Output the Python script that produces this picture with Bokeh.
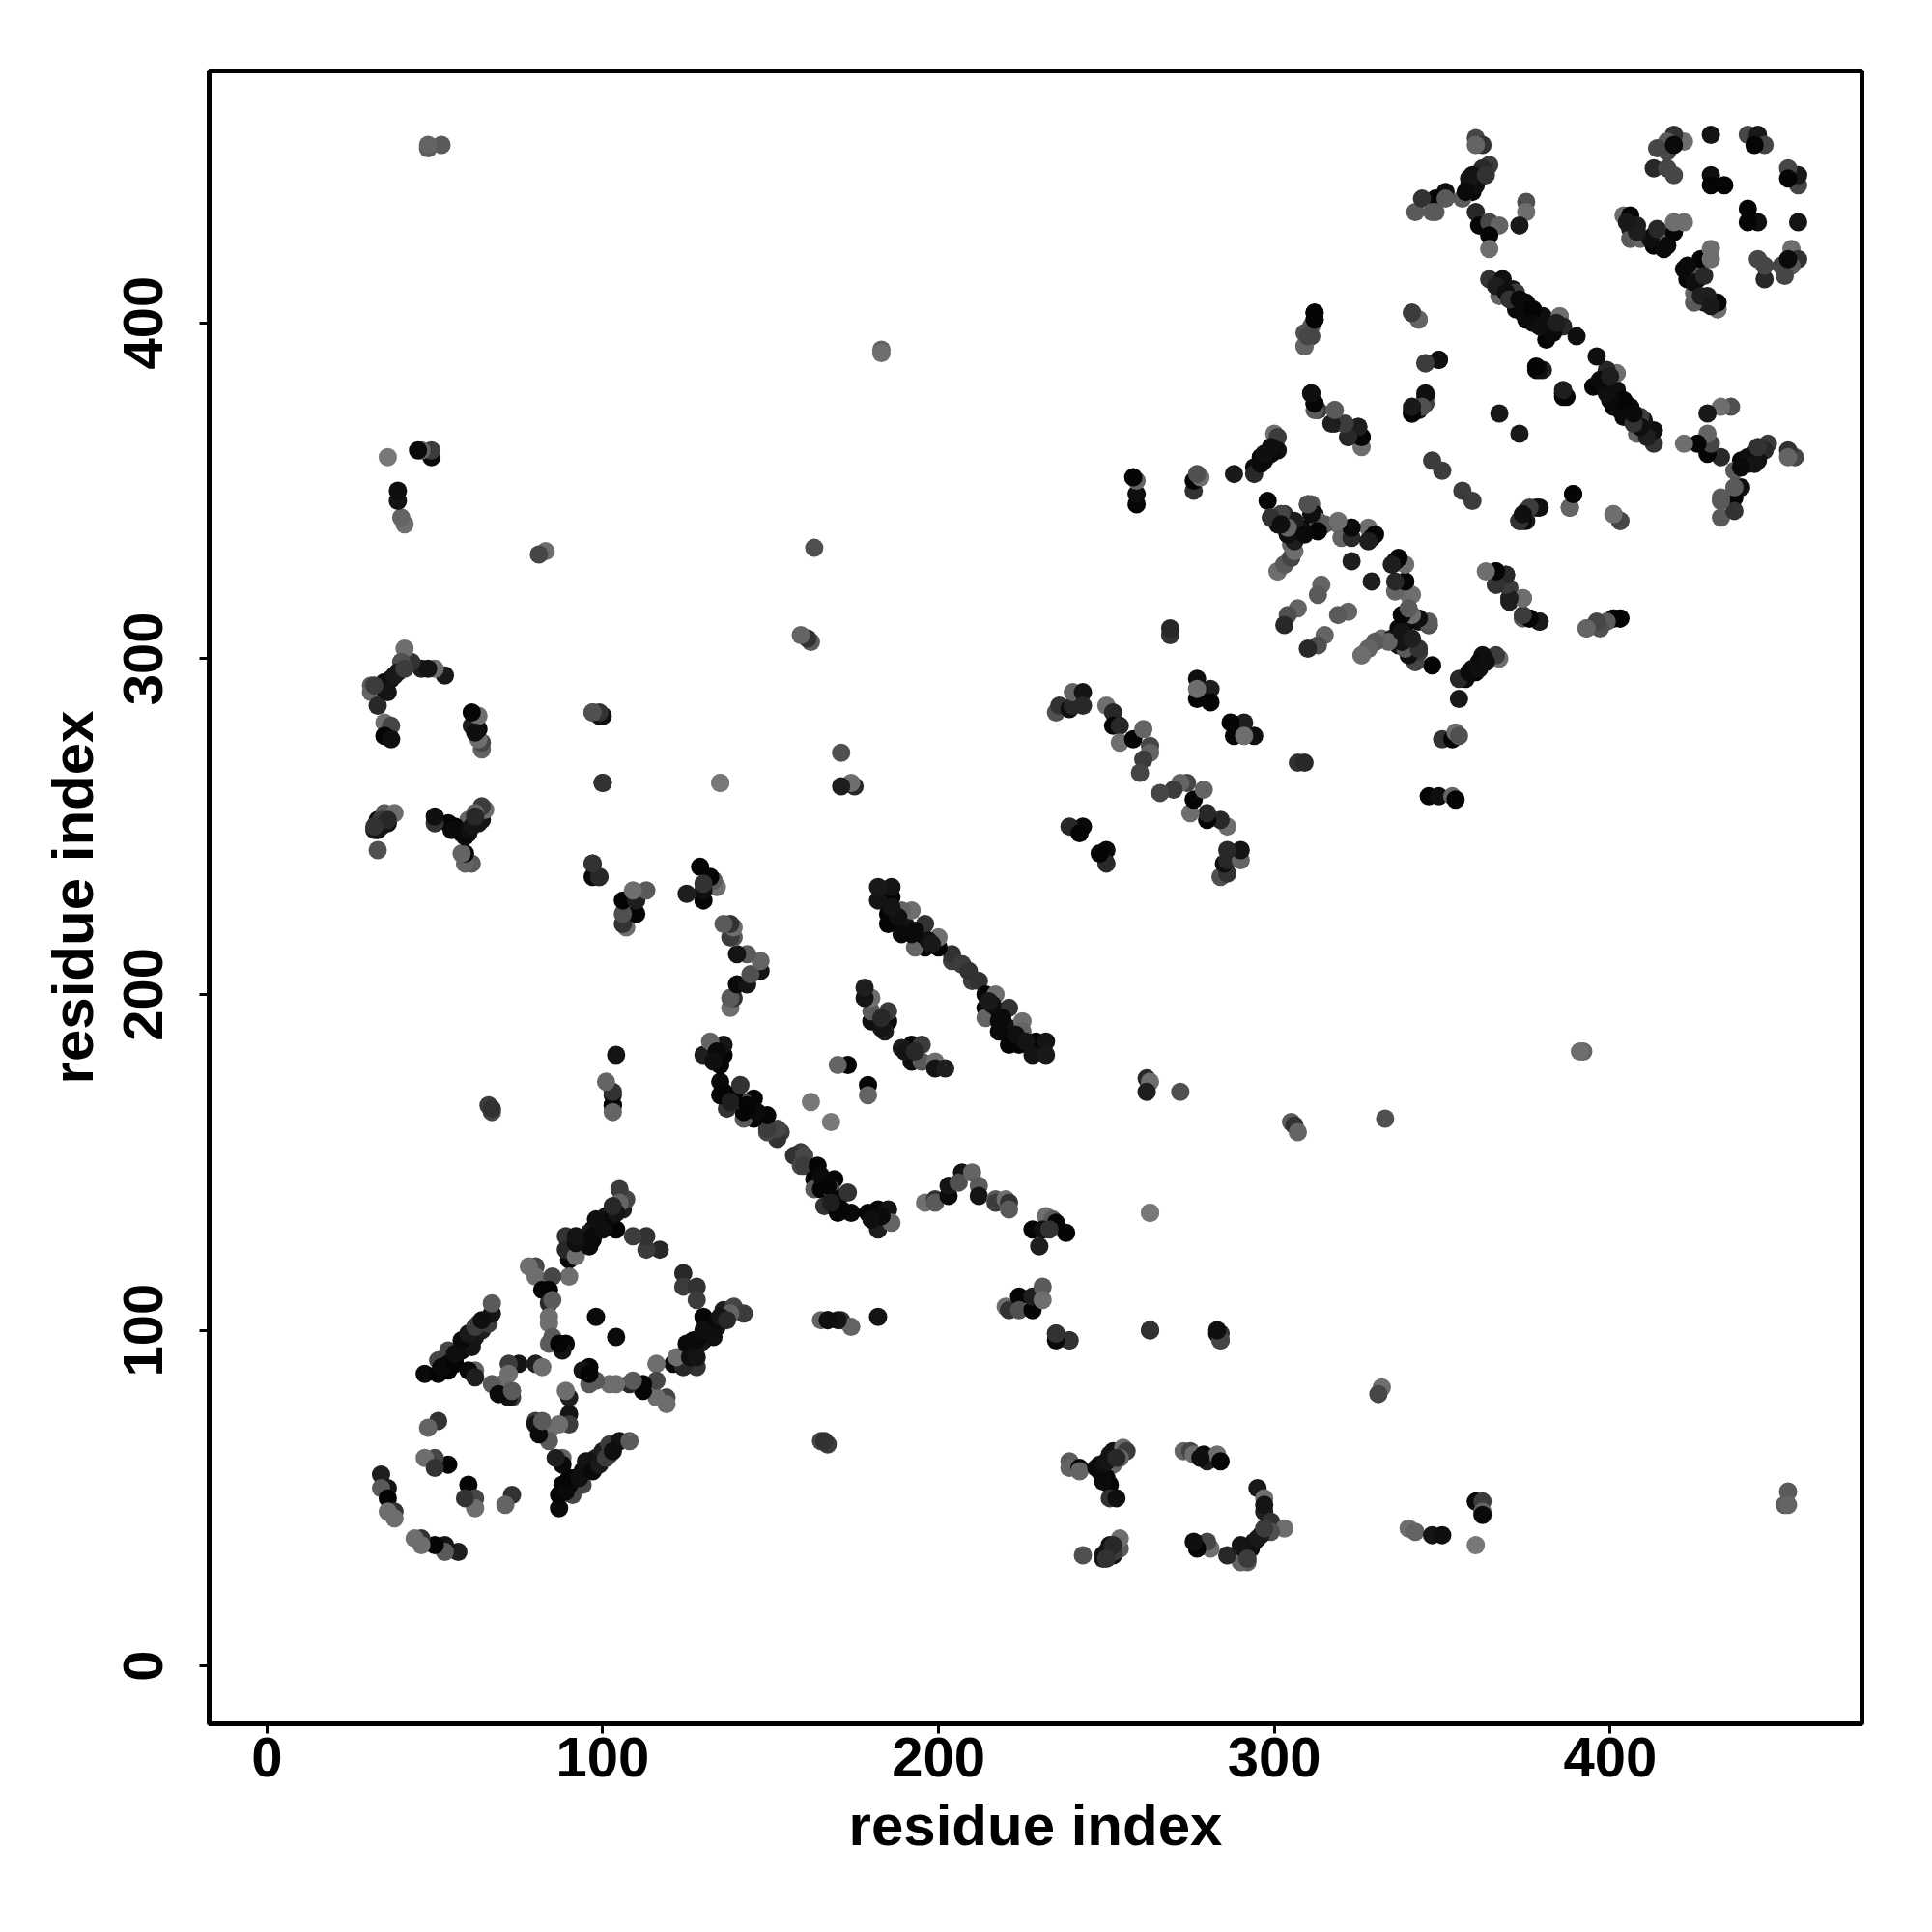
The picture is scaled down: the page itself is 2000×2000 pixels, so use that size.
from bokeh.plotting import figure
from bokeh.models import FixedTicker
from bokeh.embed import file_html
from bokeh.resources import INLINE

tick_values = [0, 100, 200, 300, 400]
x_label = "residue index"
y_label = "residue index"

# Contacts: residue a, residue b, grey level. The map is symmetric.
a1 = [87,87,88,91,94,94,95,92,90,98,100,102,102,105,108,96,89,90,93,96,97,99,101,103]
b1 = [47,51,54,51,54,58,61,56,54,62,64,63,66,67,67,59,52,56,56,61,58,60,62,64]
g1 = [10,5,5,70,70,10,20,10,10,30,30,80,60,20,90,15,10,5,15,20,10,25,60,15]

a2 = [90,90,89,90,87,84,80,84,88,88,86,80,81,82]
b2 = [75,80,82,72,72,70,73,67,62,60,62,72,69,73]
g2 = [20,30,110,60,110,110,60,90,100,10,30,20,10,90]

a3 = [128,121,124,122,127,127,130,132,130,134,134,136,139,142,138,129,125,124,124,128,128,126,128,131,133,135,137,128,130]
b3 = [89,90,89,92,94,97,97,100,104,101,103,106,107,105,105,96,96,117,113,113,109,92,92,99,98,104,103,97,100]
g3 = [50,10,40,110,15,10,5,10,5,20,10,30,70,60,100,25,10,40,60,50,60,15,20,10,15,20,40,10,15]

a4 = [119,119,116,116,116,112,112,108,109,104,102,98,96,96,94,96,104]
b4 = [80,78,80,90,85,84,82,84,85,84,84,85,84,89,88,87,98]
g4 = [70,110,110,110,70,5,5,40,90,110,110,90,90,5,20,5,10]

a5 = [57,53,53,50,46,44,46,60,62,62,59,73,71]
b5 = [34,36,34,36,38,38,36,54,50,47,50,51,48]
g5 = [30,20,90,5,50,110,110,5,70,110,50,50,100]

a6 = [159,157,160,159,160,164,163,163,165,169,168,166,170,170,173,174,179,182,185,181,182,186,183,165,167,171,168,180]
b6 = [153,152,152,149,149,149,145,142,142,145,142,137,139,135,141,135,135,136,136,133,130,132,134,146,143,136,138,133]
g6 = [60,50,70,70,60,5,5,90,5,5,70,50,5,5,50,10,5,5,20,20,30,100,10,10,5,5,30,15]

a7 = [196,199,199,203,203,207,206,210,212,212,217,217,220,221,221,228,232,234,231,230,235,238,233]
b7 = [138,139,138,140,143,147,144,147,143,140,139,138,139,138,136,130,134,133,130,125,132,129,130]
g7 = [110,50,90,10,20,20,80,100,90,20,90,60,110,50,90,5,110,90,15,30,5,5,50]

a8 = [220,221,224,224,228,228,231,231,235,239,182,167,165,171,174,165,167,166]
b8 = [107,106,110,106,106,110,113,109,99,97,104,103,103,103,101,67,66,67]
g8 = [110,50,5,80,5,30,90,110,40,50,20,5,100,50,100,70,60,50]

a9 = [210,212,214,217,214,214,218,218,221,221,225,225,221,224,228,229,228,232,232,209,207,216,219,223,226,215,218]
b9 = [204,204,200,200,196,193,195,192,196,190,192,189,185,185,185,186,182,186,182,207,209,197,193,188,186,198,189]
g9 = [60,50,5,110,5,100,5,10,50,20,110,100,5,5,80,5,20,20,25,60,50,15,10,15,20,25,10]

a10 = [192,195,192,195,199,199,202,189,179,179,168,103,103,190,193]
b10 = [185,185,180,180,180,178,178,184,173,170,162,170,167,183,183]
g10 = [10,60,15,90,110,20,30,30,5,100,120,20,15,20,40]

a11 = [235,236,239,240,240,243,243,250,252,252,254,254,258,261,263,263,261,260,277,281,277,281,277]
b11 = [284,286,285,286,290,290,286,286,284,280,280,275,276,279,274,272,270,266,294,291,288,287,291]
g11 = [80,50,15,40,100,20,40,110,40,5,40,110,5,100,70,100,60,70,15,30,5,5,110]

a12 = [307,309,350,353,354,355,346,349,353,354,250,250,248,262,263,262,272,305,306,307,333,332,331]
b12 = [269,269,276,276,278,277,259,259,259,258,243,239,242,175,174,171,171,162,161,159,163,83,81]
g12 = [50,40,50,5,110,80,5,15,100,5,10,40,5,40,110,30,80,90,50,100,80,110,70]

a13 = [263,97,100,100,100,135,97,97,99,392,391,452,453,453,283,284,284]
b13 = [135,284,283,263,263,263,239,235,235,183,183,48,52,48,99,99,97]
g13 = [120,70,15,15,50,120,50,10,50,100,110,90,90,100,15,50,80]

a14 = [239,239,242,242,248,248,251,252,255,256,254,252,250,251,251,253,249,247,249,250,253,249]
b14 = [61,59,59,58,58,60,63,64,65,64,62,60,56,54,50,50,57,59,60,61,62,55]
g14 = [90,100,5,100,10,20,25,20,110,60,100,100,5,5,50,15,10,10,15,20,40,10]

a15 = [273,275,276,279,280,283,284,295,297,297,297,299,303,299,296,294,293,291,292,290,291,286,281,280,277,276,278,293,295,290,292,297]
b15 = [64,64,63,63,61,63,61,53,50,46,48,43,41,40,39,37,35,33,31,31,35,33,35,37,35,37,62,36,38,36,32,41]
g15 = [100,70,110,10,30,110,5,25,110,30,20,50,110,80,30,15,10,30,90,100,5,40,110,70,5,15,15,15,25,20,60,60]

a16 = [243,249,249,251,252,251,254,254,252,340,342,347,350,360,362,362,362,360,250,252,250]
b16 = [33,32,33,35,33,36,35,38,34,41,40,39,39,49,49,46,45,36,34,36,32]
g16 = [80,30,20,25,15,15,90,110,60,110,100,20,15,10,60,100,10,120,20,40,50]

a17 = [312,312,311,309,311,309,311,312,313,318,318,322,325,322,326,326]
b17 = [403,401,399,397,396,393,379,376,374,374,370,369,369,366,366,363]
g17 = [5,5,90,80,70,100,25,5,60,110,30,60,40,50,5,110]

a18 = [300,301,301,299,296,294,294,288,297,298,299,302,301,303,305,305,305,303,301,311,312,310,313,313,319,320,323,323,328,329,330,328,323,314,313,307,304,303,296,297,299,303,308,306,315]
b18 = [367,366,362,361,360,357,355,355,359,347,342,343,340,339,338,334,330,328,326,346,343,339,341,338,340,336,339,336,339,336,337,335,329,322,319,315,313,310,358,361,363,343,338,341,340]
g18 = [110,60,15,10,5,10,40,25,15,5,70,60,15,90,20,100,90,100,110,90,15,10,110,5,110,100,5,40,110,5,5,30,30,100,90,100,80,40,10,15,15,50,20,30,90]

a19 = [326,328,330,332,335,337,339,343,342,340,346,339,341,338,337,343,346,341,343,345,349,345,341,341,345,343,347,350,379,375,373,375,389,388,401,403,367,366,369,366,370,370,374,374,376,379,393,396,401,403]
b19 = [301,303,305,306,306,304,304,302,299,302,310,323,319,313,309,311,310,403,401,388,389,378,374,373,376,374,359,356,345,344,341,341,349,345,343,341,373,326,325,322,321,317,318,312,312,311,309,310,312,312]
g19 = [110,90,70,110,30,15,100,70,50,15,80,10,110,5,10,15,80,70,110,100,5,15,10,50,60,15,60,60,15,80,5,25,15,60,100,60,25,5,30,40,60,30,90,90,5,15,100,70,5,5]

a20 = [360,362,360,364,362,359,358,359,356,351,348,348,360,361,364,367,364,364,375,375,373,342,344,347,351,361,360,358,363,357]
b20 = [455,453,453,447,446,444,441,439,437,439,437,433,433,429,430,429,426,422,436,433,429,433,437,433,437,443,441,443,444,439]
g20 = [70,50,100,60,40,15,10,5,90,15,5,90,40,5,70,100,5,110,80,110,25,90,50,90,90,20,15,20,50,10]

a21 = [422,419,417,414,417,419,413,417,419,430,430,430,434,441,444,446,443,404,406,406,408,406,409,413,413,416,416,419,419,422,412,414,417,408,405]
b21 = [454,456,454,452,451,453,446,446,444,456,444,441,441,456,456,453,453,432,432,428,429,425,425,426,423,422,426,427,430,430,425,428,423,427,430]
g21 = [110,50,90,70,70,10,40,70,70,20,15,5,5,70,25,70,5,110,5,25,30,90,100,5,5,10,100,5,110,110,15,40,10,30,25]

a22 = [364,368,367,371,372,372,375,375,380,382,381,385,386,390,378,380,386,387,366,369,370,373,374,377,377,379,383,384]
b22 = [413,413,408,410,409,404,406,401,402,398,395,402,399,396,386,386,379,378,411,409,407,407,403,404,400,399,397,400]
g22 = [50,15,100,20,60,10,10,5,15,15,5,110,40,15,5,30,15,5,30,15,50,10,10,5,10,15,10,30]

all_a = a1+a2+a3+a4+a5+a6+a7+a8+a9+a10+a11+a12+a13+a14+a15+a16+a17+a18+a19+a20+a21+a22
all_b = b1+b2+b3+b4+b5+b6+b7+b8+b9+b10+b11+b12+b13+b14+b15+b16+b17+b18+b19+b20+b21+b22
all_g = g1+g2+g3+g4+g5+g6+g7+g8+g9+g10+g11+g12+g13+g14+g15+g16+g17+g18+g19+g20+g21+g22
assert len(all_a) == len(all_b) == len(all_g)

xs = all_a + all_b
ys = all_b + all_a
cols = [f"#{g:02x}{g:02x}{g:02x}" for g in all_g + all_g]

p = figure(width=1968, height=1960, x_range=(-17.2, 475), y_range=(-17.2, 475),
           output_backend="svg", toolbar_location=None,
           min_border_left=216, min_border_top=73, min_border_right=41, min_border_bottom=176)
p.scatter(xs, ys, size=19, fill_color=cols, line_color=None)
p.grid.visible = False
p.outline_line_color = "black"
p.outline_line_width = 5
FONT = "Liberation Sans"
for ax in (p.xaxis[0], p.yaxis[0]):
    ax.ticker = FixedTicker(ticks=tick_values)
    ax.axis_line_color = None
    ax.major_tick_line_color = "black"
    ax.major_tick_line_width = 3
    ax.major_tick_out = 10
    ax.major_tick_in = 0
    ax.minor_tick_line_color = None
    ax.major_label_text_font = FONT
    ax.major_label_text_font_style = "bold"
    ax.major_label_text_font_size = "58px"
    ax.major_label_text_color = "black"
    ax.axis_label_text_font = FONT
    ax.axis_label_text_font_style = "bold"
    ax.axis_label_text_font_size = "60px"
    ax.axis_label_text_color = "black"
p.xaxis[0].axis_label = x_label
p.yaxis[0].axis_label = y_label
p.yaxis[0].major_label_orientation = "vertical"
p.xaxis[0].major_label_standoff = 4
p.yaxis[0].major_label_standoff = 38
p.xaxis[0].axis_label_standoff = 14
p.yaxis[0].axis_label_standoff = 17

open("out.html", "w").write(file_html(p, INLINE))
